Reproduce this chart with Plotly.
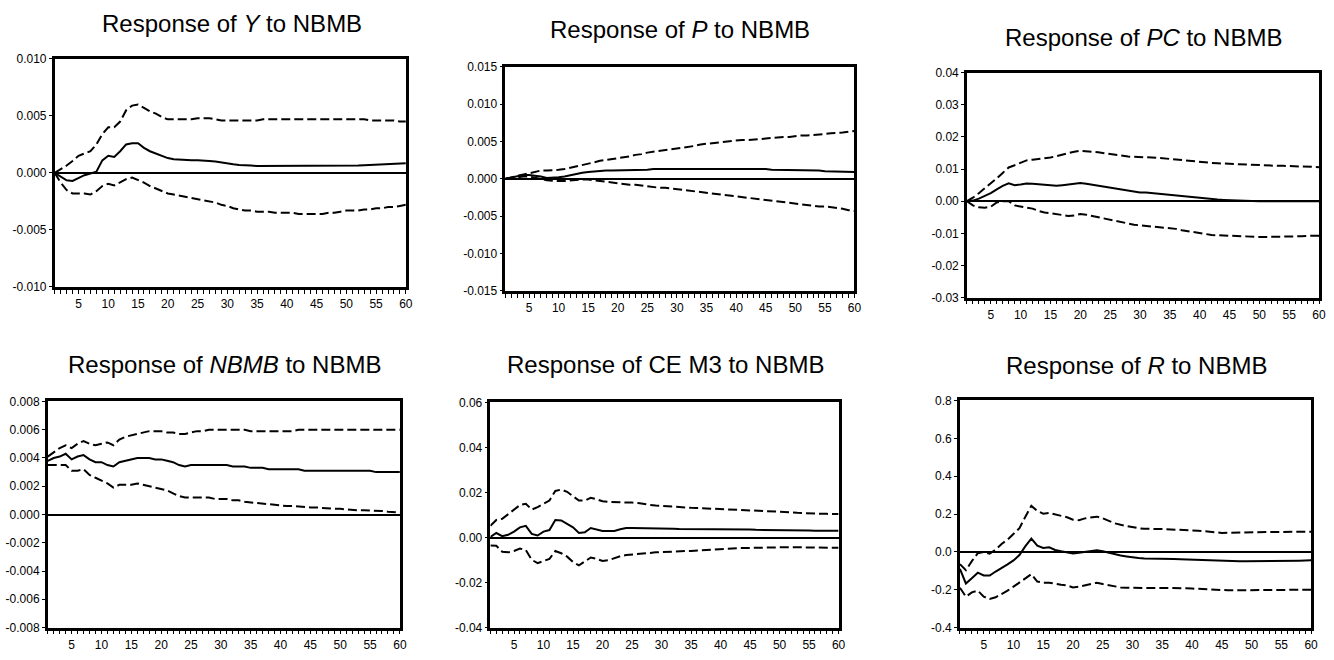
import plotly.graph_objects as go

# ---------------- data ----------------
PERIODS = list(range(1, 61))

TITLES = [
    "Response of <i>Y</i> to NBMB",
    "Response of <i>P</i> to NBMB",
    "Response of <i>PC</i> to NBMB",
    "Response of <i>NBMB</i> to NBMB",
    "Response of CE M3 to NBMB",
    "Response of <i>R</i> to NBMB",
]

Y_RESP = [0, -0.00035, -0.00065, -0.0007, -0.00045, -0.0002, -0.00005, 0.0001, 0.0011, 0.0015,
          0.0014, 0.0019, 0.0025, 0.0026, 0.0026, 0.0022, 0.0019, 0.0017, 0.0015, 0.0013,
          0.0012, 0.00115, 0.0011, 0.0011, 0.0011, 0.0011, 0.00105, 0.001, 0.0009, 0.0008,
          0.00075, 0.0007, 0.0007, 0.00065, 0.0006, 0.0006, 0.0006, 0.0006, 0.0006, 0.0006,
          0.0006, 0.0006, 0.0006, 0.0006, 0.0006, 0.0006, 0.0006, 0.0006, 0.0006, 0.00062,
          0.00064, 0.00066, 0.00068, 0.0007, 0.00072, 0.00075, 0.00078, 0.0008, 0.00082, 0.00085]
Y_UP = [0, 0.0003, 0.00065, 0.00105, 0.0015, 0.0017, 0.0019, 0.0025, 0.0034, 0.004,
        0.004, 0.0045, 0.0055, 0.0059, 0.006, 0.0057, 0.0054, 0.0052, 0.0049, 0.0047,
        0.0047, 0.0047, 0.0047, 0.0047, 0.0048, 0.0048, 0.0048, 0.0047, 0.0046, 0.0046,
        0.0046, 0.0046, 0.0046, 0.0046, 0.0046, 0.0047, 0.0047, 0.0047, 0.0047, 0.0047,
        0.0047, 0.0047, 0.0047, 0.0047, 0.0047, 0.0047, 0.0047, 0.0047, 0.0047, 0.0047,
        0.0047, 0.0047, 0.0047, 0.0046, 0.0046, 0.0046, 0.0046, 0.0046, 0.0045, 0.0045]
Y_LO = [0, -0.00085, -0.0015, -0.0018, -0.0018, -0.0018, -0.0019, -0.0016, -0.00115, -0.00095,
        -0.0011, -0.00085, -0.00055, -0.0004, -0.0006, -0.00085, -0.00115, -0.00135, -0.0016, -0.0018,
        -0.0019, -0.002, -0.0021, -0.0022, -0.0023, -0.0024, -0.0025, -0.0026, -0.0028, -0.0029,
        -0.0031, -0.0032, -0.0033, -0.0033, -0.0034, -0.0034, -0.0034, -0.0035, -0.0035, -0.0035,
        -0.0035, -0.0036, -0.0036, -0.0036, -0.0036, -0.0036, -0.0035, -0.0035, -0.0034, -0.0033,
        -0.0033, -0.0033, -0.0032, -0.0032, -0.0031, -0.0031, -0.003, -0.003, -0.0029, -0.0028]

P_RESP = [0, 0.0002, 0.0004, 0.0005, 0.0005, 0.0004, 0.0003, 0.0001, 0.0001, 0.0002,
          0.0003, 0.0005, 0.0006, 0.0008, 0.0009, 0.001, 0.001, 0.0011, 0.0011, 0.0011,
          0.0011, 0.0012, 0.0012, 0.0012, 0.0012, 0.0013, 0.0013, 0.0013, 0.0014, 0.0014,
          0.0014, 0.0014, 0.0013, 0.0013, 0.0013, 0.0013, 0.0013, 0.0013, 0.0013, 0.0013,
          0.0013, 0.0013, 0.0013, 0.0013, 0.0013, 0.0012, 0.0012, 0.0012, 0.0012, 0.0012,
          0.0011, 0.0011, 0.0011, 0.0011, 0.001, 0.001, 0.001, 0.001, 0.001, 0.0009]
P_UP = [0, 0.0002, 0.0004, 0.0006, 0.0008, 0.001, 0.0011, 0.0011, 0.0011, 0.0012,
        0.0013, 0.0015, 0.0017, 0.0019, 0.0021, 0.0022, 0.0024, 0.0025, 0.0026, 0.0028,
        0.0029, 0.003, 0.0032, 0.0033, 0.0035, 0.0036, 0.0037, 0.0038, 0.004, 0.0041,
        0.0042, 0.0043, 0.0044, 0.0046, 0.0047, 0.0048, 0.0049, 0.0049, 0.005, 0.0051,
        0.0052, 0.0052, 0.0053, 0.0053, 0.0054, 0.0055, 0.0055, 0.0056, 0.0056, 0.0057,
        0.0058, 0.0058, 0.0059, 0.0059, 0.006, 0.0061, 0.0061, 0.0062, 0.0063, 0.0064]
P_LO = [0, 0.0001, 0.0002, 0.0003, 0.0003, 0.0002, 0.0, -0.0002, -0.0003, -0.0003,
        -0.0003, -0.0002, -0.0002, -0.0001, -0.0001, -0.0002, -0.0003, -0.0004, -0.0005, -0.0006,
        -0.0007, -0.0008, -0.0008, -0.0009, -0.001, -0.0011, -0.0012, -0.0012, -0.0013, -0.0014,
        -0.0015, -0.0016, -0.0017, -0.0018, -0.0019, -0.002, -0.0021, -0.0022, -0.0023, -0.0024,
        -0.0025, -0.0025, -0.0026, -0.0027, -0.0028, -0.0029, -0.003, -0.0031, -0.0032, -0.0033,
        -0.0034, -0.0035, -0.0036, -0.0037, -0.0037, -0.0038, -0.0039, -0.004, -0.0042, -0.0043]

PC_RESP = [0, 0.0002, 0.0008, 0.0017, 0.0025, 0.0037, 0.0048, 0.0056, 0.005, 0.0052,
           0.0055, 0.0054, 0.0052, 0.005, 0.005, 0.0048, 0.005, 0.0052, 0.0055, 0.0057,
           0.0054, 0.0051, 0.0048, 0.0045, 0.0042, 0.0039, 0.0035, 0.0032, 0.0028, 0.0027,
           0.0027, 0.0025, 0.0024, 0.0022, 0.0019, 0.0017, 0.0015, 0.0013, 0.0011, 0.0009,
           0.0008, 0.0007, 0.0005, 0.0004, 0.0003, 0.0002, 0.0002, 0.0001, 0.0001, 0.0,
           0.0, 0.0, 0.0, 0.0, 0.0, 0.0, 0.0, 0.0, 0.0, 0.0]
PC_UP = [0, 0.0011, 0.0025, 0.004, 0.0055, 0.0071, 0.0088, 0.0105, 0.0112, 0.0119,
         0.0127, 0.0129, 0.0131, 0.0133, 0.0136, 0.014, 0.0145, 0.015, 0.0154, 0.0157,
         0.0156, 0.0154, 0.0152, 0.0149, 0.0146, 0.0143, 0.014, 0.0139, 0.0138, 0.0138,
         0.0137, 0.0136, 0.0135, 0.0133, 0.0132, 0.013, 0.0128, 0.0126, 0.0123, 0.0121,
         0.012, 0.0119, 0.0118, 0.0117, 0.0116, 0.0115, 0.0114, 0.0113, 0.0113, 0.0112,
         0.0111, 0.0111, 0.011, 0.011, 0.0109, 0.0108, 0.0108, 0.0107, 0.0107, 0.0106]
PC_LO = [0, -0.0013, -0.0019, -0.002, -0.0017, -0.0004, 0.0, 0.0, -0.0013, -0.0017,
         -0.0019, -0.0023, -0.003, -0.0035, -0.0037, -0.004, -0.0044, -0.0046, -0.0044, -0.004,
         -0.0042, -0.0046, -0.005, -0.0054, -0.0058, -0.0062, -0.0067, -0.007, -0.0073, -0.0075,
         -0.0077, -0.0079, -0.008, -0.0082, -0.0083, -0.0086, -0.009, -0.0093, -0.0097, -0.01,
         -0.0103, -0.0105, -0.0106, -0.0107, -0.0107, -0.0108, -0.0109, -0.011, -0.011, -0.0111,
         -0.0111, -0.0111, -0.011, -0.011, -0.011, -0.011, -0.0109, -0.0108, -0.0108, -0.0107]

NB_RESP = [0.0038, 0.004, 0.0041, 0.0043, 0.0039, 0.0041, 0.0042, 0.0039, 0.0037, 0.0037,
           0.0035, 0.0034, 0.0037, 0.0038, 0.0039, 0.004, 0.004, 0.004, 0.0039, 0.0039,
           0.0038, 0.0037, 0.0035, 0.0034, 0.0035, 0.0035, 0.0035, 0.0035, 0.0035, 0.0035,
           0.0035, 0.0034, 0.0034, 0.0034, 0.0033, 0.0033, 0.0033, 0.0032, 0.0032, 0.0032,
           0.0032, 0.0032, 0.0032, 0.0031, 0.0031, 0.0031, 0.0031, 0.0031, 0.0031, 0.0031,
           0.0031, 0.0031, 0.0031, 0.0031, 0.0031, 0.003, 0.003, 0.003, 0.003, 0.003]
NB_UP = [0.0041, 0.0044, 0.0047, 0.0049, 0.0047, 0.005, 0.0052, 0.005, 0.0049, 0.005,
         0.0051, 0.0049, 0.0053, 0.0055, 0.0056, 0.0057, 0.0058, 0.0059, 0.0059, 0.0059,
         0.0058, 0.0058, 0.0057, 0.0057, 0.0058, 0.0059, 0.0059, 0.006, 0.006, 0.006,
         0.006, 0.006, 0.006, 0.006, 0.0059, 0.0059, 0.0059, 0.0059, 0.0059, 0.0059,
         0.0059, 0.0059, 0.006, 0.006, 0.006, 0.006, 0.006, 0.006, 0.006, 0.006,
         0.006, 0.006, 0.006, 0.006, 0.006, 0.006, 0.006, 0.006, 0.006, 0.006]
NB_LO = [0.0035, 0.0035, 0.0035, 0.0035, 0.0031, 0.0031, 0.0032, 0.0028, 0.0026, 0.0024,
         0.0022, 0.0019, 0.0021, 0.0021, 0.0021, 0.0022, 0.0021, 0.002, 0.0019, 0.0018,
         0.0017, 0.0015, 0.0013, 0.0012, 0.0012, 0.0012, 0.0012, 0.0012, 0.0011, 0.0011,
         0.0011, 0.001, 0.001, 0.0009, 0.00085, 0.0008, 0.00075, 0.0007, 0.00065, 0.0006,
         0.0006, 0.0006, 0.00055, 0.00055, 0.0005, 0.0005, 0.00045, 0.00045, 0.0004, 0.0004,
         0.00035, 0.00035, 0.0003, 0.0003, 0.0003, 0.00025, 0.00025, 0.0002, 0.0002, 0.00015]

CE_RESP = [0.0003, 0.002, 0.0006, 0.0012, 0.0026, 0.0045, 0.0052, 0.0016, 0.0009, 0.0026,
           0.0033, 0.0078, 0.0076, 0.0062, 0.0045, 0.002, 0.0023, 0.0042, 0.0037, 0.0029,
           0.0029, 0.0029, 0.0037, 0.0042, 0.0042, 0.0042, 0.0041, 0.004, 0.004, 0.004,
           0.0039, 0.0039, 0.0038, 0.0038, 0.0038, 0.0038, 0.0038, 0.0038, 0.0038, 0.0037,
           0.0037, 0.0036, 0.0036, 0.0035, 0.0035, 0.0034, 0.0034, 0.0033, 0.0033, 0.0032,
           0.0032, 0.0032, 0.0031, 0.0031, 0.0031, 0.003, 0.003, 0.003, 0.003, 0.003]
CE_UP = [0.0052, 0.0078, 0.0083, 0.0102, 0.0124, 0.0144, 0.015, 0.0124, 0.0135, 0.015,
         0.0164, 0.0207, 0.0213, 0.0203, 0.0184, 0.0164, 0.0164, 0.0176, 0.017, 0.0161,
         0.0158, 0.0158, 0.0158, 0.0155, 0.0155, 0.0153, 0.0148, 0.0145, 0.0142, 0.014,
         0.0137, 0.0135, 0.0134, 0.0133, 0.0132, 0.0131, 0.013, 0.0128, 0.0127, 0.0126,
         0.0125, 0.0124, 0.0123, 0.0122, 0.0122, 0.012, 0.0119, 0.0118, 0.0116, 0.0115,
         0.0113, 0.0112, 0.011, 0.0108, 0.0107, 0.0106, 0.0105, 0.0105, 0.0104, 0.0104]
CE_LO = [-0.0035, -0.0037, -0.0063, -0.0066, -0.006, -0.0049, -0.0056, -0.0099, -0.0114, -0.0104,
         -0.0095, -0.006, -0.007, -0.0085, -0.0109, -0.0124, -0.0106, -0.0089, -0.0095, -0.0104,
         -0.0101, -0.0092, -0.0083, -0.0078, -0.0075, -0.0072, -0.007, -0.0069, -0.0066, -0.0065,
         -0.0063, -0.0062, -0.006, -0.006, -0.006, -0.0058, -0.0056, -0.0054, -0.0052, -0.005,
         -0.0049, -0.0048, -0.0047, -0.0047, -0.0046, -0.0045, -0.0045, -0.0044, -0.0044, -0.0043,
         -0.0043, -0.0043, -0.0043, -0.0043, -0.0043, -0.0044, -0.0044, -0.0045, -0.0045, -0.0046]

R_RESP = [-0.09, -0.167, -0.139, -0.11, -0.125, -0.125, -0.104, -0.087, -0.066, -0.045,
          -0.017, 0.03, 0.07, 0.033, 0.021, 0.024, 0.01, 0.003, -0.002, -0.009,
          -0.005, 0.0, 0.005, 0.009, 0.003, -0.005, -0.012, -0.019, -0.024, -0.03,
          -0.033, -0.035, -0.035, -0.035, -0.036, -0.037, -0.038, -0.039, -0.04, -0.042,
          -0.043, -0.045, -0.047, -0.049, -0.05, -0.05, -0.05, -0.05, -0.05, -0.05,
          -0.05, -0.05, -0.05, -0.05, -0.05, -0.049, -0.048, -0.047, -0.046, -0.045]
R_UP = [-0.065, -0.097, -0.049, -0.007, 0.0, -0.01, 0.012, 0.042, 0.064, 0.094,
        0.125, 0.186, 0.243, 0.216, 0.202, 0.205, 0.198, 0.191, 0.183, 0.17,
        0.167, 0.177, 0.183, 0.186, 0.177, 0.163, 0.151, 0.143, 0.136, 0.129,
        0.125, 0.122, 0.12, 0.121, 0.121, 0.12, 0.118, 0.116, 0.114, 0.113,
        0.111, 0.109, 0.106, 0.103, 0.1, 0.101, 0.102, 0.103, 0.103, 0.103,
        0.104, 0.104, 0.105, 0.105, 0.106, 0.106, 0.106, 0.106, 0.106, 0.106]
R_LO = [-0.19, -0.237, -0.214, -0.205, -0.237, -0.249, -0.24, -0.223, -0.205, -0.184,
        -0.163, -0.139, -0.118, -0.157, -0.163, -0.163, -0.17, -0.174, -0.177, -0.188,
        -0.184, -0.177, -0.17, -0.163, -0.17, -0.177, -0.184, -0.188, -0.19, -0.19,
        -0.19, -0.19, -0.19, -0.19, -0.19, -0.19, -0.19, -0.19, -0.192, -0.194,
        -0.196, -0.198, -0.2, -0.202, -0.203, -0.203, -0.203, -0.203, -0.203, -0.203,
        -0.203, -0.203, -0.203, -0.203, -0.203, -0.203, -0.202, -0.201, -0.2, -0.2]

X_TICKS = [5, 10, 15, 20, 25, 30, 35, 40, 45, 50, 55, 60]

Y_TICKVALS = [
    [-0.010, -0.005, 0.0, 0.005, 0.010],
    [-0.015, -0.010, -0.005, 0.0, 0.005, 0.010, 0.015],
    [-0.03, -0.02, -0.01, 0.0, 0.01, 0.02, 0.03, 0.04],
    [-0.008, -0.006, -0.004, -0.002, 0.0, 0.002, 0.004, 0.006, 0.008],
    [-0.04, -0.02, 0.0, 0.02, 0.04, 0.06],
    [-0.4, -0.2, 0.0, 0.2, 0.4, 0.6, 0.8],
]
Y_TICKTEXT = [
    ["-0.010", "-0.005", "0.000", "0.005", "0.010"],
    ["-0.015", "-0.010", "-0.005", "0.000", "0.005", "0.010", "0.015"],
    ["-0.03", "-0.02", "-0.01", "0.00", "0.01", "0.02", "0.03", "0.04"],
    ["-0.008", "-0.006", "-0.004", "-0.002", "0.000", "0.002", "0.004", "0.006", "0.008"],
    ["-0.04", "-0.02", "0.00", "0.02", "0.04", "0.06"],
    ["-0.4", "-0.2", "0.0", "0.2", "0.4", "0.6", "0.8"],
]

SERIES = [
    (Y_RESP, Y_UP, Y_LO),
    (P_RESP, P_UP, P_LO),
    (PC_RESP, PC_UP, PC_LO),
    (NB_RESP, NB_UP, NB_LO),
    (CE_RESP, CE_UP, CE_LO),
    (R_RESP, R_UP, R_LO),
]

# ---------------- layout (pixel boxes) ----------------
W, H = 1334, 660
# plot boxes: left, right, top, bottom (pixels)
BOXES = [
    (55, 408, 53, 286),
    (508, 859, 61, 290),
    (972, 1326, 67, 297),
    (48, 402, 403, 634),
    (493, 843, 404, 634),
    (965, 1318, 402, 634),
]
TITLE_POS = [(233, 17), (684, 23), (1150, 31), (226, 365), (669, 365), (1142, 366)]

FONT = "Liberation Sans, Arial, sans-serif"

fig = go.Figure()
layout = dict(
    width=W, height=H, margin=dict(l=0, r=0, t=0, b=0),
    paper_bgcolor="white", plot_bgcolor="white", showlegend=False,
    font=dict(family=FONT, color="black"),
)
annotations = []

for i in range(6):
    n = i + 1
    xa = "x" if n == 1 else f"x{n}"
    ya = "y" if n == 1 else f"y{n}"
    resp, up, lo = SERIES[i]
    for vals, dash in ((up, "9px,4px"), (lo, "9px,4px"), (resp, "solid")):
        fig.add_trace(go.Scatter(
            x=PERIODS, y=vals, mode="lines", xaxis=xa, yaxis=ya,
            line=dict(color="black", width=2, dash=dash), hoverinfo="skip",
        ))
    l, r, t, b = BOXES[i]
    tv = Y_TICKVALS[i]
    layout[f"xaxis{'' if n == 1 else n}"] = dict(
        domain=[l / W, r / W], range=[1, 60], anchor=ya,
        showline=True, linecolor="black", linewidth=2.5, mirror=True,
        showgrid=False, zeroline=False,
        tickmode="array", tickvals=X_TICKS, ticks="outside", ticklen=4, tickwidth=1,
        tickcolor="black",
        minor=dict(tickmode="array", tickvals=PERIODS, ticks="outside", ticklen=4,
                   tickwidth=1, tickcolor="black", showgrid=False),
        tickfont=dict(family=FONT, size=12, color="black"),
    )
    layout[f"yaxis{'' if n == 1 else n}"] = dict(
        domain=[1 - b / H, 1 - t / H], range=[tv[0], tv[-1]], anchor=xa,
        showline=True, linecolor="black", linewidth=2.5, mirror=True,
        showgrid=False, zeroline=True, zerolinecolor="black", zerolinewidth=1.5,
        tickmode="array", tickvals=tv, ticktext=Y_TICKTEXT[i],
        ticks="outside", ticklen=3, tickwidth=1, tickcolor="black",
        tickfont=dict(family=FONT, size=12, color="black"),
    )
    cx, cy = TITLE_POS[i]
    annotations.append(dict(
        text=TITLES[i], x=cx / W, y=1 - cy / H, xref="paper", yref="paper",
        xanchor="center", yanchor="middle", showarrow=False,
        font=dict(family=FONT, size=24, color="black"),
    ))

layout["annotations"] = annotations
fig.update_layout(**layout)
fig.write_html("out.html")
